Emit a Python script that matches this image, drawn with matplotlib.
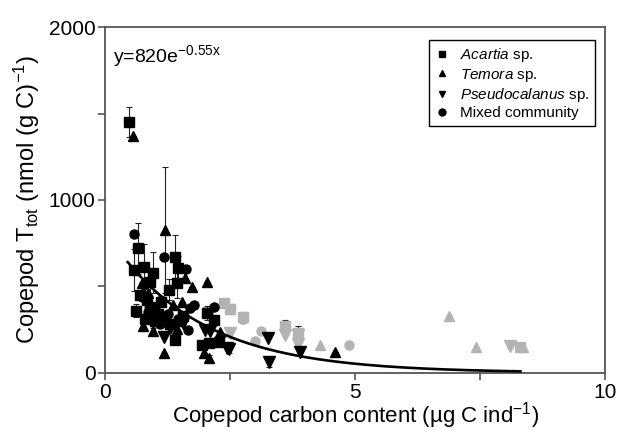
import numpy as np
import matplotlib.pyplot as plt
from matplotlib.lines import Line2D

plt.rcParams['font.family'] = ['Liberation Sans', 'DejaVu Sans']
plt.rcParams['mathtext.fontset'] = 'custom'
plt.rcParams['mathtext.rm'] = 'Liberation Sans'
plt.rcParams['mathtext.it'] = 'Liberation Sans:italic'

# Acartia sp. (black squares): carbon content, Ttot, error
acartia_x = [0.47, 0.65, 0.57, 0.77, 0.95, 0.90, 1.40, 1.45, 1.43, 1.27, 0.83, 1.11, 0.62,
             0.80, 2.03, 2.17, 1.40, 1.93, 2.07, 2.27, 1.00, 1.20, 1.30, 1.55, 0.90, 1.05, 0.70]
acartia_y = [1450, 720, 595, 615, 580, 525, 672, 605, 522, 480, 420, 412, 360,
             310, 345, 306, 187, 162, 171, 181, 300, 320, 280, 330, 380, 340, 450]
acartia_err = [85, 148, 120, 130, 120, 80, 125, 70, 90, 60, 40, 30, 40,
               20, 40, 0, 20, 20, 15, 15, 20, 20, 20, 20, 20, 20, 30]

# Temora sp. (black triangles)
temora_x = [0.55, 1.20, 0.73, 1.60, 2.03, 1.73, 1.53, 1.18, 1.97, 2.07, 1.43, 2.30, 4.60,
            0.85, 1.00, 1.35, 0.95, 1.50, 0.75]
temora_y = [1370, 827, 522, 551, 528, 499, 412, 114, 114, 85, 253, 235, 120,
            460, 300, 390, 240, 300, 270]
temora_err = [0, 365, 0, 0, 0, 0, 0, 0, 0, 20, 20, 0, 0,
              0, 20, 0, 20, 0, 20]

# Pseudocalanus sp. (black inverted triangles)
pseudo_x = [1.17, 3.25, 3.27, 3.90, 2.47, 2.43, 2.00, 2.10, 1.30, 1.55, 0.95]
pseudo_y = [210, 200, 60, 123, 137, 143, 245, 240, 260, 290, 310]
pseudo_err = [0, 0, 25, 25, 20, 0, 0, 0, 0, 0, 20]

# Mixed community (black circles)
mixed_x = [0.57, 1.17, 1.62, 0.73, 1.70, 1.77, 2.17, 1.00, 1.25, 1.45, 0.85, 1.65, 1.10]
mixed_y = [802, 672, 600, 441, 374, 393, 380, 370, 340, 310, 350, 250, 280]

# grey symbols (other data)
grey_sq_x = [2.38, 2.49, 2.75, 3.60, 3.85, 8.29, 2.05]
grey_sq_y = [403, 368, 320, 268, 230, 150, 354]
grey_sq_err = [20, 30, 31, 38, 40, 24, 30]
grey_tri_x = [6.87, 7.41, 4.30, 8.35]
grey_tri_y = [326, 148, 160, 148]
grey_inv_x = [3.60, 3.85, 3.85, 8.10, 2.50]
grey_inv_y = [220, 220, 168, 156, 230]
grey_circ_x = [3.11, 3.00, 4.88, 2.75]
grey_circ_y = [239, 185, 158, 310]

# exponential fit shown on the chart
fit_a, fit_b = 820, -0.55
fit_xmin, fit_xmax = 0.45, 8.3

legend_labels = ['$\\mathit{Acartia}$ sp.', '$\\mathit{Temora}$ sp.',
                 '$\\mathit{Pseudocalanus}$ sp.', 'Mixed community']
legend_markers = ['s', '^', 'v', 'o']

grey = '#b3b3b3'
spine_col = '#555555'

fig = plt.figure(figsize=(6.19, 4.30), dpi=100)
ax = fig.add_axes([0.170, 0.133, 0.808, 0.804])

# grey data first
ax.errorbar(grey_sq_x, grey_sq_y, yerr=grey_sq_err, fmt='s', ms=7, color=grey,
            ecolor='#222222', elinewidth=0.8, capsize=2.5, capthick=0.8, zorder=2)
ax.plot(grey_tri_x, grey_tri_y, '^', ms=7.5, color=grey, zorder=2)
ax.plot(grey_inv_x, grey_inv_y, 'v', ms=8, color=grey, zorder=2)
ax.plot(grey_circ_x, grey_circ_y, 'o', ms=6.5, color=grey, zorder=2)

ebk = dict(ecolor='#222222', elinewidth=0.8, capsize=2.5, capthick=0.8, zorder=3)
ax.errorbar(acartia_x, acartia_y, yerr=acartia_err, fmt='s', ms=7, color='black', **ebk)
ax.errorbar(temora_x, temora_y, yerr=temora_err, fmt='^', ms=7.5, color='black', **ebk)
ax.errorbar(pseudo_x, pseudo_y, yerr=pseudo_err, fmt='v', ms=8, color='black', **ebk)
ax.plot(mixed_x, mixed_y, 'o', ms=6.5, color='black', zorder=3)

xf = np.linspace(fit_xmin, fit_xmax, 200)
ax.plot(xf, fit_a * np.exp(fit_b * xf), color='black', lw=1.9, zorder=4)

ax.text(0.016, 0.955, 'y=820e$^{\\mathrm{-0.55x}}$', transform=ax.transAxes,
        fontsize=14, va='top', ha='left')

ax.set_xlim(0, 10)
ax.set_ylim(0, 2000)
ax.set_xticks([0, 2.5, 5, 7.5, 10])
ax.set_xticklabels(['0', '', '5', '', '10'])
ax.set_yticks([0, 500, 1000, 1500, 2000])
ax.set_yticklabels(['0', '', '1000', '', '2000'])
ax.tick_params(direction='out', length=5, width=1.2, color=spine_col, labelsize=15)
ax.tick_params(axis='x', pad=2)
ax.tick_params(axis='y', pad=2)
for s in ax.spines.values():
    s.set_color(spine_col)
    s.set_linewidth(1.3)

# x label placed by hand so it sits close under the tick labels
fig.text(0.574, 0.018, 'Copepod carbon content (µg C ind$^{-1}$)', fontsize=16,
         ha='center', va='baseline')
ax.set_ylabel('Copepod T$_{\\mathrm{tot}}$ (nmol (g C)$^{-1}$)', fontsize=17, labelpad=5)

handles = [Line2D([], [], ls='none', marker=m, ms=5, color='black') for m in legend_markers]
leg = ax.legend(handles, legend_labels, loc='upper right', bbox_to_anchor=(0.98, 0.962),
                borderaxespad=0, fontsize=11, handlelength=0.8, handletextpad=0.8,
                labelspacing=0.15, fancybox=False, edgecolor='black',
                framealpha=1, borderpad=0.4)
leg.get_frame().set_linewidth(1.0)

fig.savefig('out.png', dpi=100)
